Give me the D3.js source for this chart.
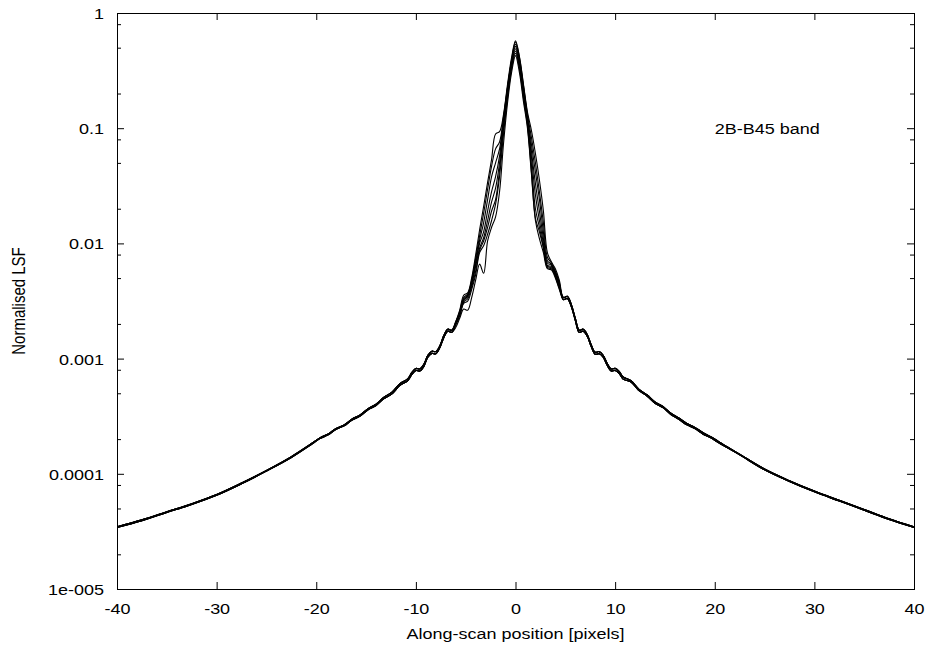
<!DOCTYPE html>
<html>
<head>
<meta charset="utf-8">
<script src="https://cdn.jsdelivr.net/npm/d3@7"></script>
<style>
body { margin: 0; background: #fff; }
text { font-family: "Liberation Sans", Arial, sans-serif; font-size: 15px; fill: #000; }
</style>
</head>
<body>
<div id="chart"></div>
<script>
// x positions (pixels along scan): outer left wing, core, outer right wing
var xLeft = [-40, -37.5, -35, -32.5, -30, -27.5, -25, -22.5, -20.4, -19.6, -18.8, -18.0, -17.2, -16.4,
  -15.6, -14.8, -14.0, -13.2, -12.4, -11.6, -10.8, -10.4, -10.0, -9.6, -9.2, -8.8, -8.4, -8.0, -7.6,
  -7.2, -6.8, -6.4];
var xCore = [-6.0, -5.6, -5.2, -4.8, -4.4, -4.0, -3.6, -3.2, -2.8, -2.4, -2.0, -1.6, -1.2, -0.8, -0.4,
  0, 0.4, 0.8, 1.2, 1.6, 2.0, 2.4, 2.8, 3.2, 3.6, 4.0, 4.4];
var xRight = [4.8, 5.2, 5.6, 6.0, 6.4, 6.8, 7.2, 7.6, 8.0, 8.4, 8.8, 9.2, 9.6, 10.0, 10.4, 10.8, 11.6,
  12.4, 13.2, 14.0, 14.8, 15.6, 16.4, 17.2, 18.0, 18.8, 19.6, 20.4, 22.5, 25, 27.5, 30, 32.5, 35, 37.5, 40];

// wing values (two slightly different versions)
var wingLeftA = [3.47e-5, 3.98e-5, 4.68e-5, 5.50e-5, 6.61e-5, 8.32e-5, 1.07e-4, 1.41e-4, 1.85e-4, 2.06e-4,
  2.22e-4, 2.48e-4, 2.66e-4, 2.99e-4, 3.24e-4, 3.68e-4, 4.02e-4, 4.63e-4, 5.11e-4, 6.07e-4, 6.71e-4,
  7.59e-4, 8.22e-4, 8.13e-4, 8.91e-4, 1.07e-3, 1.16e-3, 1.15e-3, 1.29e-3, 1.585e-3, 1.80e-3, 1.76e-3];
var wingLeftB = [3.42e-5, 3.92e-5, 4.61e-5, 5.42e-5, 6.51e-5, 8.19e-5, 1.055e-4, 1.385e-4, 1.82e-4, 2.03e-4,
  2.18e-4, 2.44e-4, 2.61e-4, 2.93e-4, 3.17e-4, 3.60e-4, 3.92e-4, 4.50e-4, 4.94e-4, 5.85e-4, 6.45e-4,
  7.29e-4, 7.89e-4, 7.80e-4, 8.55e-4, 1.03e-3, 1.11e-3, 1.10e-3, 1.24e-3, 1.52e-3, 1.73e-3, 1.69e-3];
var wingRightA = [3.39e-3, 3.47e-3, 2.95e-3, 2.24e-3, 1.76e-3, 1.80e-3, 1.62e-3, 1.32e-3, 1.135e-3, 1.15e-3,
  1.07e-3, 9.12e-4, 8.13e-4, 8.22e-4, 7.76e-4, 6.92e-4, 6.43e-4, 5.41e-4, 4.85e-4, 4.21e-4, 3.85e-4,
  3.35e-4, 3.05e-4, 2.73e-4, 2.53e-4, 2.28e-4, 2.10e-4, 1.90e-4, 1.48e-4, 1.10e-4, 8.71e-5, 7.08e-5,
  5.89e-5, 4.90e-5, 4.07e-5, 3.47e-5];
var wingRightB = [3.25e-3, 3.33e-3, 2.83e-3, 2.15e-3, 1.69e-3, 1.73e-3, 1.56e-3, 1.27e-3, 1.09e-3, 1.10e-3,
  1.03e-3, 8.76e-4, 7.80e-4, 7.89e-4, 7.45e-4, 6.64e-4, 6.27e-4, 5.27e-4, 4.73e-4, 4.10e-4, 3.75e-4,
  3.27e-4, 2.97e-4, 2.66e-4, 2.47e-4, 2.22e-4, 2.05e-4, 1.86e-4, 1.46e-4, 1.083e-4, 8.58e-5, 6.97e-5,
  5.80e-5, 4.83e-5, 4.01e-5, 3.42e-5];

// core of each curve
var core1 = [2.09e-3, 2.63e-3, 3.55e-3, 3.72e-3, 5.01e-3, 7.94e-3, 0.0132, 0.0209, 0.0339, 0.0537, 0.0891,
  0.0933, 0.132, 0.240, 0.407, 0.575, 0.417, 0.240, 0.138, 0.0955, 0.0603, 0.0355, 0.0191, 8.32e-3,
  6.92e-3, 6.03e-3, 4.79e-3];
var core2 = [2.04e-3, 2.57e-3, 3.39e-3, 3.63e-3, 4.79e-3, 7.41e-3, 0.0117, 0.0182, 0.0295, 0.0468, 0.0661,
  0.0759, 0.126, 0.229, 0.389, 0.562, 0.407, 0.234, 0.132, 0.0832, 0.0501, 0.0282, 0.0151, 7.59e-3,
  6.76e-3, 5.75e-3, 4.57e-3];
var core3 = [2.09e-3, 2.51e-3, 3.31e-3, 3.55e-3, 4.68e-3, 6.92e-3, 0.0107, 0.0151, 0.0240, 0.0380, 0.0501,
  0.0661, 0.120, 0.224, 0.380, 0.537, 0.389, 0.224, 0.126, 0.0724, 0.0417, 0.0240, 0.0126, 7.08e-3,
  6.61e-3, 5.62e-3, 4.47e-3];
var core4 = [2.00e-3, 2.45e-3, 3.24e-3, 3.47e-3, 4.47e-3, 6.61e-3, 0.0100, 0.0126, 0.0191, 0.0282, 0.0380,
  0.0575, 0.115, 0.214, 0.372, 0.513, 0.372, 0.214, 0.120, 0.0631, 0.0331, 0.0191, 0.0110, 6.76e-3,
  6.46e-3, 5.50e-3, 4.37e-3];
var core5 = [2.04e-3, 2.40e-3, 3.16e-3, 3.47e-3, 4.37e-3, 6.31e-3, 9.12e-3, 0.0112, 0.0158, 0.0229, 0.0302,
  0.0501, 0.107, 0.204, 0.355, 0.490, 0.355, 0.204, 0.115, 0.0562, 0.0263, 0.0158, 0.0100, 6.46e-3,
  6.31e-3, 5.37e-3, 4.27e-3];
var core6 = [1.95e-3, 2.34e-3, 3.09e-3, 3.31e-3, 4.17e-3, 5.75e-3, 8.71e-3, 0.0105, 0.0138, 0.0191, 0.0240,
  0.0437, 0.100, 0.195, 0.339, 0.468, 0.339, 0.195, 0.110, 0.0479, 0.0200, 0.0138, 9.33e-3, 6.31e-3,
  6.17e-3, 5.25e-3, 4.17e-3];
var core7 = [2.00e-3, 2.40e-3, 3.02e-3, 3.16e-3, 3.98e-3, 5.37e-3, 8.32e-3, 9.55e-3, 0.0120, 0.0158, 0.0219,
  0.0380, 0.0891, 0.182, 0.324, 0.447, 0.324, 0.182, 0.105, 0.0417, 0.0166, 0.0126, 9.12e-3, 6.17e-3,
  6.03e-3, 5.13e-3, 4.07e-3];
var core8 = [1.86e-3, 2.24e-3, 2.69e-3, 2.63e-3, 3.39e-3, 4.79e-3, 6.61e-3, 5.50e-3, 0.0105, 0.0138, 0.0170,
  0.0282, 0.0741, 0.166, 0.302, 0.427, 0.302, 0.170, 0.100, 0.0398, 0.0158, 0.0110, 8.32e-3, 6.03e-3,
  5.89e-3, 5.01e-3, 3.98e-3];

var xTicks = [-40, -30, -20, -10, 0, 10, 20, 30, 40];
var xTickLabels = ["-40", "-30", "-20", "-10", "0", "10", "20", "30", "40"];
var yTicks = [1e-5, 1e-4, 1e-3, 1e-2, 1e-1, 1];
var yTickLabels = ["1e-005", "0.0001", "0.001", "0.01", "0.1", "1"];
var yMinor = [2e-5, 5e-5, 8e-5, 2e-4, 5e-4, 8e-4, 2e-3, 5e-3, 8e-3, 0.02, 0.05, 0.08, 0.2, 0.5, 0.8];

// set the dimensions and margins of the graph
var margin = {top: 13, right: 17, bottom: 63, left: 117},
    width = 931 - margin.left - margin.right,
    height = 652 - margin.top - margin.bottom;

var svg = d3.select("#chart")
  .append("svg")
    .attr("width", width + margin.left + margin.right)
    .attr("height", height + margin.top + margin.bottom)
  .append("g")
    .attr("transform", "translate(" + margin.left + "," + margin.top + ")");

var x = d3.scaleLinear().domain([-40, 40]).range([0, width]);
var y = d3.scaleLog().domain([1e-5, 1]).range([height, 0]);

// curves
var allX = xLeft.concat(xCore, xRight);
var cores = [core1, core2, core3, core4, core5, core6, core7, core8];
var series = cores.map(function(c, i) {
  var wl = (i % 2) ? wingLeftB : wingLeftA;
  var wr = (i % 2) ? wingRightB : wingRightA;
  var vals = wl.concat(c, wr);
  return allX.map(function(xv, j) { return {x: xv, v: vals[j]}; });
});

svg.append("clipPath").attr("id", "clip")
  .append("rect").attr("width", width).attr("height", height);

var line = d3.line()
  .x(function(d) { return x(d.x); })
  .y(function(d) { return y(d.v); })
  .curve(d3.curveCatmullRom.alpha(0.5));

svg.append("g").attr("clip-path", "url(#clip)")
  .selectAll("path")
  .data(series)
  .enter()
  .append("path")
    .attr("d", line)
    .attr("fill", "none")
    .attr("stroke", "#000")
    .attr("stroke-width", 1.1);

// axes, ticks pointing inward
function styleAxis(g) {
  g.select(".domain").remove();
  g.selectAll("line").attr("stroke", "#000");
}

svg.append("g")
  .attr("transform", "translate(0," + height + ")")
  .call(d3.axisBottom(x).tickValues(xTicks).tickSizeInner(-7).tickSizeOuter(0)
    .tickFormat(function(d, i) { return xTickLabels[i]; }))
  .call(styleAxis)
  .selectAll("text")
    .attr("y", 0).attr("dy", 0)
    .attr("transform", "translate(0,25) scale(1.2,1)")
    .attr("fill", "#000");

svg.append("g")
  .call(d3.axisTop(x).tickValues(xTicks).tickSizeInner(-7).tickSizeOuter(0).tickFormat(""))
  .call(styleAxis);

svg.append("g")
  .call(d3.axisLeft(y).tickValues(yTicks).tickSizeInner(-7).tickSizeOuter(0)
    .tickFormat(function(d, i) { return yTickLabels[i]; }))
  .call(styleAxis)
  .selectAll("text")
    .attr("x", 0).attr("dy", "0.36em")
    .attr("transform", "translate(-13,0) scale(1.2,1)")
    .attr("fill", "#000");

svg.append("g")
  .call(d3.axisLeft(y).tickValues(yMinor).tickSizeInner(-4).tickSizeOuter(0).tickFormat(""))
  .call(styleAxis);

svg.append("g")
  .attr("transform", "translate(" + width + ",0)")
  .call(d3.axisRight(y).tickValues(yTicks).tickSizeInner(-7).tickSizeOuter(0).tickFormat(""))
  .call(styleAxis);

svg.append("g")
  .attr("transform", "translate(" + width + ",0)")
  .call(d3.axisRight(y).tickValues(yMinor).tickSizeInner(-4).tickSizeOuter(0).tickFormat(""))
  .call(styleAxis);

// frame
svg.append("rect")
  .attr("x", 0.5).attr("y", 0.5)
  .attr("width", width).attr("height", height)
  .attr("fill", "none")
  .attr("stroke", "#000")
  .attr("stroke-width", 1);

// labels
svg.append("text")
  .attr("transform", "translate(" + (width / 2) + "," + (height + 50) + ") scale(1.2,1)")
  .attr("text-anchor", "middle")
  .text("Along-scan position [pixels]");

svg.append("text")
  .attr("transform", "translate(" + (25 - margin.left) + "," + (height / 2) + ") scale(1.2,1) rotate(-90)")
  .attr("text-anchor", "middle")
  .text("Normalised LSF");

svg.append("text")
  .attr("transform", "translate(" + x(20) + "," + y(0.1) + ") scale(1.2,1)")
  .attr("dy", "0.36em")
  .text("2B-B45 band");
</script>
</body>
</html>
